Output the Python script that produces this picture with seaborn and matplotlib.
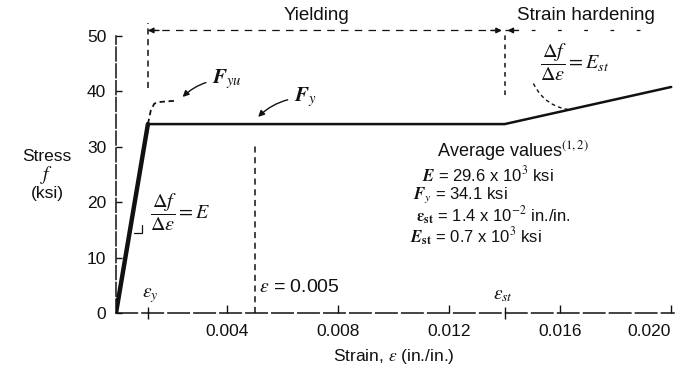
import matplotlib
matplotlib.use("Agg")
import matplotlib.pyplot as plt
import seaborn as sns
import pandas as pd

# Idealized stress-strain curve of structural steel (ksi vs in./in.)
strain = [0.0, 0.00115, 0.014, 0.020]
stress = [0.0, 34.1, 34.1, 40.8]

# Upper yield point excursion, drawn dashed
upper_strain = [0.00115, 0.00125, 0.00138, 0.0016, 0.0021]
upper_stress = [34.1, 36.5, 37.8, 38.1, 38.3]

# Reference strains
eps_y = 0.00115
eps_check = 0.005
eps_st = 0.014

# Axis ticks
x_ticks = [0.004, 0.008, 0.012, 0.016, 0.020]
x_tick_labels = ["0.004", "0.008", "0.012", "0.016", "0.020"]
y_ticks = [0, 10, 20, 30, 40, 50]
y_tick_labels = ["0", "10", "20", "30", "40", "50"]

# Average material values
avg_lines = [
    r"$\mathbfit{E}$ = 29.6 x 10$^3$ ksi",
    r"$\mathbfit{F}_{y}$ = 34.1 ksi",
    r"$\mathbf{\epsilon}_{\mathbf{st}}$ = 1.4 x 10$^{-2}$ in./in.",
    r"$\mathbfit{E}_{\mathbf{st}}$ = 0.7 x 10$^3$ ksi",
]

sns.set_style("white")
plt.rcParams["font.family"] = ["Liberation Sans", "DejaVu Sans"]
plt.rcParams["mathtext.fontset"] = "stix"

W, H = 688, 368
fig = plt.figure(figsize=(W / 100, H / 100), dpi=100)
ax = fig.add_axes([116 / W, (H - 313) / H, 558 / W, 277 / H])


def fpos(px, py):
    return px / W, 1 - py / H


ink = "#111111"
fs = 12.5

curve = pd.DataFrame({"strain": strain, "stress": stress})
upper = pd.DataFrame({"strain": upper_strain, "stress": upper_stress})

# Elastic branch drawn heavier than the plateau and hardening branch
sns.lineplot(data=curve.iloc[:2], x="strain", y="stress", ax=ax, color=ink,
             lw=3.2, sort=False, estimator=None)
sns.lineplot(data=curve.iloc[1:], x="strain", y="stress", ax=ax, color=ink,
             lw=1.8, sort=False, estimator=None)
sns.lineplot(data=upper, x="strain", y="stress", ax=ax, color=ink,
             lw=1.3, sort=False, estimator=None, linestyle=(0, (3, 2)))

ax.set_xlim(0, 0.0201)
ax.set_ylim(0, 50)
ax.set_xlabel("")
ax.set_ylabel("")

ax.set_xticks(x_ticks)
ax.set_xticklabels(x_tick_labels)
ax.set_yticks(y_ticks)
ax.set_yticklabels(y_tick_labels)
ax.set_xticks([eps_y, eps_st], minor=True)
ax.tick_params(axis="x", which="major", direction="in", length=6, width=1,
               labelsize=fs, pad=8, colors=ink, bottom=True)
ax.tick_params(axis="x", which="minor", direction="inout", length=9, width=1,
               colors=ink, bottom=True)
ax.tick_params(axis="y", which="major", direction="in", length=4, width=1,
               labelsize=fs, pad=7, colors=ink, left=True)
ax.get_xticklabels()[-1].set_horizontalalignment("right")
ax.get_xticklabels()[-1].set_x(0.0201)

for side in ("top", "right"):
    ax.spines[side].set_visible(False)
ax.spines["left"].set_linestyle((0, (9, 2)))
ax.spines["bottom"].set_linestyle((0, (14, 3)))
for side in ("left", "bottom"):
    ax.spines[side].set_color(ink)
    ax.spines[side].set_linewidth(1.1)

# Vertical guides
dash = (0, (4, 3))
ax.plot([eps_check, eps_check], [0, 30.5], color=ink, lw=1.1, ls=dash)
ax.plot([eps_y, eps_y], [40.6, 52.3], color=ink, lw=1.1, ls=dash, clip_on=False)
ax.plot([eps_st, eps_st], [39.3, 50.8], color=ink, lw=1.1, ls=(0, (3, 3)), clip_on=False)

# Dimension lines for the yielding and strain-hardening ranges
y_dim = 51.0
ax.plot([eps_y, eps_st], [y_dim, y_dim], color=ink, lw=0.9,
        ls=(0, (6, 5)), clip_on=False)
ax.plot([eps_st, 0.0194], [y_dim, y_dim], color=ink, lw=0.9,
        ls=(0, (3, 18)), clip_on=False)
head = dict(arrowstyle="-|>", color=ink, lw=1.0, mutation_scale=8,
            shrinkA=0, shrinkB=0)
ax.annotate("", xy=(eps_y, y_dim), xytext=(eps_y + 0.0004, y_dim),
            arrowprops=head, annotation_clip=False)
ax.annotate("", xy=(eps_st - 0.0001, y_dim), xytext=(eps_st - 0.0005, y_dim),
            arrowprops=head, annotation_clip=False)
ax.annotate("", xy=(eps_st + 0.0001, y_dim), xytext=(eps_st + 0.0005, y_dim),
            arrowprops=head, annotation_clip=False)

fig.text(*fpos(316, 16), "Yielding", ha="center", va="center",
         fontsize=13.5, color=ink)
fig.text(*fpos(586, 16), "Strain hardening", ha="center", va="center",
         fontsize=13.5, color=ink)

# Upper and lower yield point labels
ax.annotate(r"$\mathbfit{F}_{yu}$", xy=(upper_strain[-1] + 0.0003, 39.0),
            xytext=(0.00345, 42.2), fontsize=15, color=ink, va="center",
            arrowprops=dict(arrowstyle="-|>", color=ink, lw=1.0,
                            mutation_scale=9, shrinkA=2, shrinkB=0,
                            connectionstyle="arc3,rad=0.2"))
ax.annotate(r"$\mathbfit{F}_{y}$", xy=(0.00512, stress[1] + 1.3),
            xytext=(0.0064, 38.9), fontsize=15, color=ink, va="center",
            arrowprops=dict(arrowstyle="-|>", color=ink, lw=1.0,
                            mutation_scale=9, shrinkA=2, shrinkB=0,
                            connectionstyle="arc3,rad=0.2"))

# Slope labels
fig.text(*fpos(150, 212), r"$\dfrac{\Delta f}{\Delta \epsilon} = E$",
         ha="left", va="center", fontsize=14.5, color=ink)
ax.plot([0.00065, 0.00095, 0.00095], [14.4, 14.4, 15.9], color=ink, lw=0.9)

fig.text(*fpos(540, 62), r"$\dfrac{\Delta f}{\Delta \epsilon} = E_{st}$",
         ha="left", va="center", fontsize=14.5, color=ink)
ax.annotate("", xy=(0.0165, 36.6), xytext=(0.0150, 41.8),
            arrowprops=dict(arrowstyle="-", color=ink, lw=1.0,
                            ls=(0, (2, 3)), connectionstyle="arc3,rad=0.3"))

# Strain markers
fig.text(*fpos(150, 296), r"$\epsilon_y$", ha="center", va="center",
         fontsize=14, color=ink)
fig.text(*fpos(503, 296), r"$\epsilon_{st}$", ha="center", va="center",
         fontsize=14, color=ink)
fig.text(*fpos(259, 288), r"$\epsilon$ = 0.005", ha="left", va="center",
         fontsize=14, color=ink)

# Average values block
fig.text(*fpos(437, 151), "Average values$^{(1,2)}$", ha="left",
         va="center", fontsize=13, color=ink)
starts = [422, 413, 416, 410]
rows = [174, 195, 216, 237]
for txt, sx, ry in zip(avg_lines, starts, rows):
    fig.text(*fpos(sx, ry), txt, ha="left", va="center", fontsize=12,
             color=ink)

# Axis titles
fig.text(*fpos(47, 157), "Stress", ha="center", va="center", fontsize=fs,
         color=ink)
fig.text(*fpos(47, 175), r"$f$", ha="center", va="center", fontsize=14,
         color=ink)
fig.text(*fpos(47, 193), "(ksi)", ha="center", va="center", fontsize=fs,
         color=ink)
fig.text(*fpos(394, 356), r"Strain, $\epsilon$ (in./in.)", ha="center",
         va="center", fontsize=fs, color=ink)

fig.savefig("out.png", dpi=100, facecolor="white")
